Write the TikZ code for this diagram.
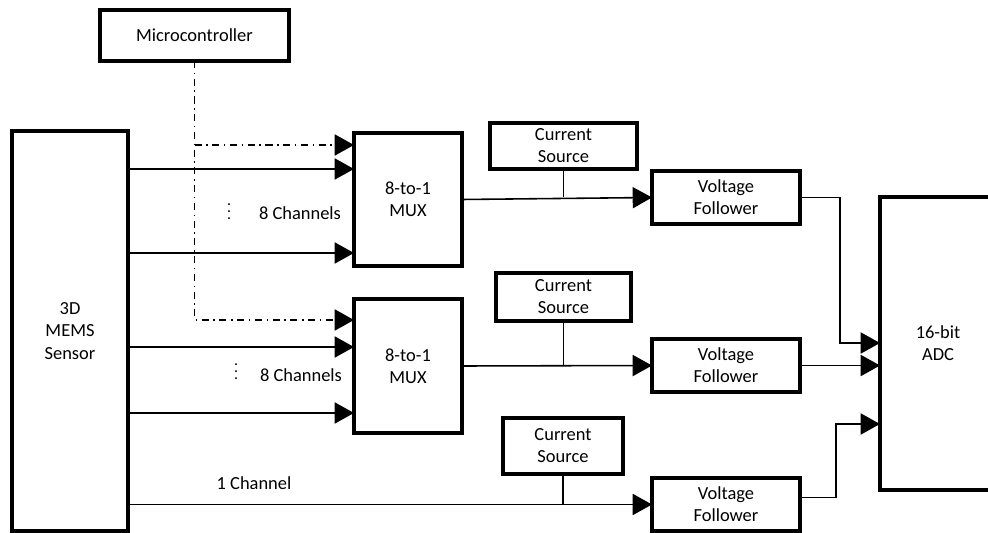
\documentclass[tikz,border=0pt]{standalone}
\usepackage{fontspec}
\setmainfont{Carlito}
\usetikzlibrary{arrows.meta,calc}

\begin{document}
\begin{tikzpicture}[x=0.02cm, y=-0.02cm,
    block/.style={draw, line width=2pt, align=center, inner sep=0pt, outer sep=0pt},
    arrow/.style={-{Triangle[length=11pt,width=12pt]}, line width=0.9pt},
    ctrl/.style={arrow, dash pattern=on 4pt off 2.6pt on 0.9pt off 2.6pt},
    wire/.style={line width=0.9pt},
    dots/.style={inner sep=0pt, font=\small},
    font=\fontsize{10.5}{12.6}\selectfont
]
\useasboundingbox (0,0) rectangle (988,533);
\clip (0,0) rectangle (988,533);

% Blocks
\node[block, minimum width=3.78cm, minimum height=1.02cm] (micro) at (194.5,35.5) {Microcontroller};
\node[block, minimum width=2.32cm, minimum height=8cm] (sensor) at (70,331) {3D\\MEMS\\Sensor};
\node[block, minimum width=2.16cm, minimum height=2.66cm] (mux1) at (408,199.5) {8-to-1\\MUX};
\node[block, minimum width=2.16cm, minimum height=2.68cm] (mux2) at (408,366) {8-to-1\\MUX};
\node[block, minimum width=2.94cm, minimum height=0.92cm] (cs1) at (563.5,146) {Current\\Source};
\node[block, minimum width=2.70cm, minimum height=0.96cm] (cs2) at (563.5,297) {Current\\Source};
\node[block, minimum width=2.40cm, minimum height=1.12cm] (cs3) at (563,446) {Current\\Source};
\node[block, minimum width=2.96cm, minimum height=1.06cm] (vf1) at (726,197.5) {Voltage\\Follower};
\node[block, minimum width=2.96cm, minimum height=1.06cm] (vf2) at (726,365.5) {Voltage\\Follower};
\node[block, minimum width=2.96cm, minimum height=1.06cm] (vf3) at (726,504.5) {Voltage\\Follower};
\node[block, minimum width=2.32cm, minimum height=5.86cm] (adc) at (938,343.5) {16-bit\\ADC};

% MUX inputs
\coordinate (m1c) at (354,145);
\coordinate (m1a) at (354,169);
\coordinate (m1b) at (354,253);
\coordinate (m2c) at (354,320);
\coordinate (m2a) at (354,347);
\coordinate (m2b) at (354,413);

% Control from microcontroller
\draw[ctrl] (micro.south) |- (m2c);
\draw[ctrl] (micro.south |- m1c) -- (m1c);

% Sensor channels
\draw[arrow] (sensor.east |- m1a) -- (m1a);
\draw[arrow] (sensor.east |- m1b) -- (m1b);
\draw[arrow] (sensor.east |- m2a) -- (m2a);
\draw[arrow] (sensor.east |- m2b) -- (m2b);
\draw[arrow] (sensor.east |- vf3.west) -- (vf3.west);

\node[dots] (dots1) at (229,206) {$\vdots$};
\node (ch1) at (300,213) {8 Channels};
\node[dots] (dots2) at (236,366) {$\vdots$};
\node (ch2) at (301,375) {8 Channels};
\node (one) at (254,483) {1 Channel};

% MUX to followers, current sources
\draw[arrow] (mux1.east) -- (vf1.west);
\draw[arrow] (mux2.east) -- (vf2.west);
\draw[wire] (cs1.south) -- (cs1.south |- vf1.west);
\draw[wire] (cs2.south) -- (cs2.south |- vf2.west);
\draw[wire] (cs3.south) -- (cs3.south |- vf3.west);

% Followers to ADC
\coordinate (a1) at (880,343);
\coordinate (a3) at (880,424);
\draw[arrow] (vf1.east) -- ++(40,0) |- (a1);
\draw[arrow] (vf2.east) -- (adc.west |- vf2.east);
\draw[arrow] ($(vf3.east)+(0,-7)$) -- ++(36,0) |- (a3);

\end{tikzpicture}
\end{document}
